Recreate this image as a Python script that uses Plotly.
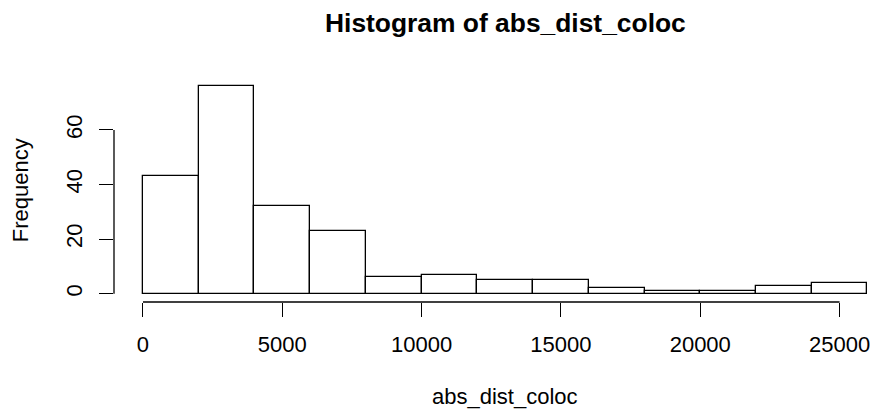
import plotly.graph_objects as go

# Histogram of abs_dist_coloc: bin edges every 2000, counts per bin
bin_width = 2000
bin_starts = [0, 2000, 4000, 6000, 8000, 10000, 12000, 14000, 16000,
              18000, 20000, 22000, 24000]
counts = [43, 76, 32, 23, 6, 7, 5, 5, 2, 1, 1, 3, 4]
x_ticks = [0, 5000, 10000, 15000, 20000, 25000]
y_ticks = [0, 20, 40, 60]

title_text = "Histogram of abs_dist_coloc"
x_label = "abs_dist_coloc"
y_label = "Frequency"

FONT = "Liberation Sans, Arial, Helvetica, sans-serif"
W, H = 871, 410
ML, MR, MT, MB = 114.3, 0, 78, 107.7

# base-graphics style ranges: 4% padding on both sides
x_lo = bin_starts[0]
x_hi = bin_starts[-1] + bin_width
pad_x = 0.04 * (x_hi - x_lo)
full_lo, full_hi = x_lo - pad_x, x_hi + pad_x
full_px = 782.1  # width of the full plotting region (right part lies past the page edge)
vis_px = W - ML - MR
vis_hi = full_lo + (full_hi - full_lo) * vis_px / full_px

y_max = max(counts)
y_lo, y_hi = -0.04 * y_max, y_max * 1.04

mids = [s + bin_width / 2 for s in bin_starts]

fig = go.Figure()
fig.add_trace(go.Bar(
    x=mids, y=counts, width=[bin_width] * len(mids),
    marker=dict(color="white", line=dict(color="black", width=1.3)),
    showlegend=False, hoverinfo="x+y",
))

axis_common = dict(
    showgrid=False, zeroline=False, showline=False,
    ticks="outside", ticklen=14, tickwidth=1.3, tickcolor="black",
    tickfont=dict(family=FONT, size=22, color="black"),
)

fig.update_layout(
    width=W, height=H,
    margin=dict(l=ML, r=MR, t=MT, b=MB, pad=0),
    paper_bgcolor="white", plot_bgcolor="white",
    bargap=0,
    xaxis=dict(range=[full_lo, vis_hi], tickvals=x_ticks,
               ticktext=[str(v) for v in x_ticks],
               ticklabelstandoff=9, **axis_common),
    yaxis=dict(range=[y_lo, y_hi], tickvals=y_ticks,
               ticktext=[str(v) for v in y_ticks],
               tickangle=-90, ticklabelstandoff=8, **axis_common),
    font=dict(family=FONT, color="black"),
)

# axis lines spanning only the tick range
fig.add_shape(type="line", xref="x", yref="paper",
              x0=x_ticks[0], x1=x_ticks[-1], y0=0, y1=0,
              line=dict(color="black", width=1.3))
fig.add_shape(type="line", xref="paper", yref="y",
              x0=0, x1=0, y0=y_ticks[0], y1=y_ticks[-1],
              line=dict(color="black", width=1.3))

plot_h = H - MT - MB
center_x_paper = ((ML + full_px / 2) - ML) / vis_px

fig.add_annotation(text=f"<b>{title_text}</b>", xref="paper", yref="paper",
                   x=center_x_paper, y=(H - MB - 22.8) / plot_h,
                   xanchor="center", yanchor="middle", showarrow=False,
                   font=dict(family=FONT, size=26.4, color="black"))
fig.add_annotation(text=x_label, xref="paper", yref="paper",
                   x=center_x_paper, y=(H - MB - 396.5) / plot_h,
                   xanchor="center", yanchor="middle", showarrow=False,
                   font=dict(family=FONT, size=22, color="black"))
fig.add_annotation(text=y_label, xref="paper", yref="paper",
                   x=(20.6 - ML) / vis_px, y=0.5, textangle=-90,
                   xanchor="center", yanchor="middle", showarrow=False,
                   font=dict(family=FONT, size=22, color="black"))

fig.write_html("out.html")
